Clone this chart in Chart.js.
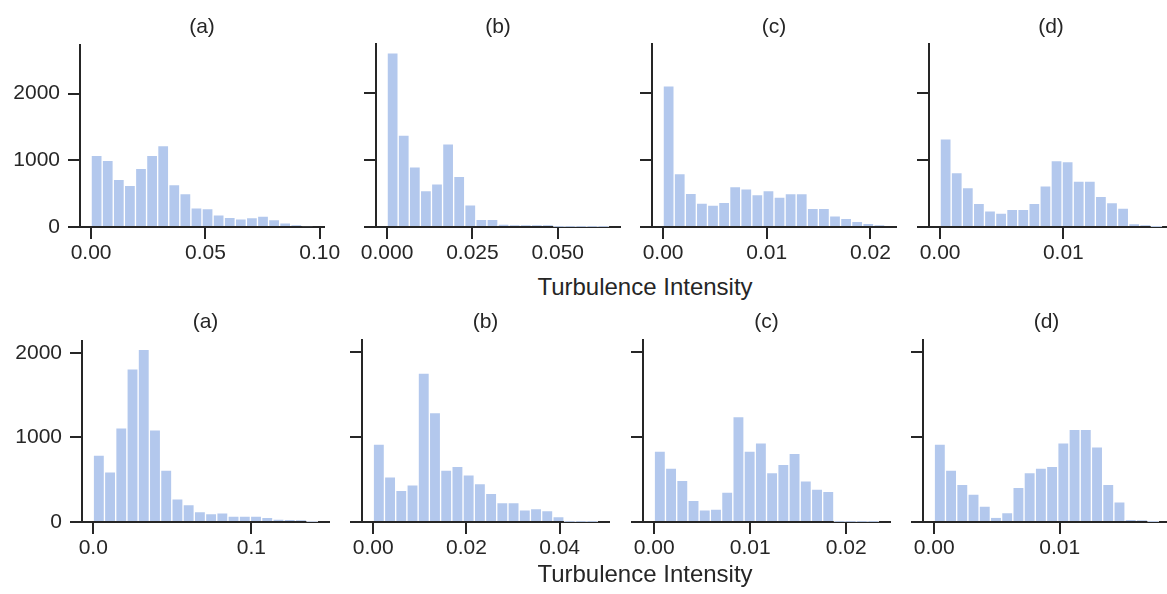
<!DOCTYPE html>
<html>
<head>
<meta charset="utf-8">
<script src="https://cdn.jsdelivr.net/npm/chart.js@4.4.1/dist/chart.umd.min.js"></script>
<style>
  html, body { margin: 0; padding: 0; background: #fff; overflow: hidden; }
  body { width: 1167px; height: 594px; position: relative; font-family: "Liberation Sans", Arial, sans-serif; color: #262626; }
  canvas { position: absolute; }
  .ttl { position: absolute; font-size: 21px; line-height: 21px; text-align: center; white-space: nowrap; }
  .xlab { position: absolute; font-size: 24px; line-height: 24px; text-align: center; width: 400px; white-space: nowrap; }
</style>
</head>
<body>
<script>
// shared text
const panelTitles = ["(a)", "(b)", "(c)", "(d)"];
const xLabel = "Turbulence Intensity";
const yTicks = [0, 1000, 2000];

// first figure: upper edge of each histogram range, 20 bins from 0
const topUpper = [0.097, 0.065, 0.0214, 0.018];
const topA = [1076, 1000, 717, 626, 879, 1076, 1222, 636, 500, 288, 278, 182, 146, 121, 141, 162, 111, 61, 30, 15];
const topB = [2606, 1374, 899, 545, 646, 1242, 758, 333, 116, 116, 45, 30, 30, 25, 25, 1, 1, 1, 1, 1];
const topC = [2111, 798, 505, 359, 328, 369, 606, 571, 485, 545, 449, 500, 500, 278, 278, 167, 131, 86, 56, 30];
const topD = [1318, 813, 591, 354, 242, 207, 263, 263, 354, 616, 995, 980, 687, 687, 460, 364, 283, 50, 30, 3];
const topXTicks = [[0, 0.05, 0.10], [0, 0.025, 0.05], [0, 0.01, 0.02], [0, 0.01]];
const topXTickLabels = [["0.00", "0.05", "0.10"], ["0.000", "0.025", "0.050"], ["0.00", "0.01", "0.02"], ["0.00", "0.01"]];

// second figure
const botUpper = [0.142, 0.0482, 0.0234, 0.0179];
const botA = [791, 593, 1115, 1810, 2043, 1091, 613, 273, 206, 123, 99, 107, 71, 71, 71, 55, 36, 28, 24, 5];
const botB = [917, 532, 373, 437, 1754, 1290, 611, 655, 556, 452, 337, 230, 230, 143, 159, 135, 63, 1, 1, 1];
const botC = [837, 635, 492, 254, 143, 151, 353, 1242, 837, 933, 583, 679, 810, 484, 389, 361, 1, 1, 1, 1];
const botD = [917, 611, 444, 329, 187, 56, 111, 409, 583, 635, 655, 933, 1091, 1091, 885, 444, 238, 28, 20, 3];
const botXTicks = [[0, 0.1], [0, 0.02, 0.04], [0, 0.01, 0.02], [0, 0.01]];
const botXTickLabels = [["0.0", "0.1"], ["0.00", "0.02", "0.04"], ["0.00", "0.01", "0.02"], ["0.00", "0.01"]];

const rows = [
  { counts: [topA, topB, topC, topD], upper: topUpper, ticks: topXTicks, labels: topXTickLabels },
  { counts: [botA, botB, botC, botD], upper: botUpper, ticks: botXTicks, labels: botXTickLabels }
];

// where each row's axes sit on the page (pixels)
const layout = [
  { top: 44, zero: 227, lefts: [80, 376, 652, 929], width: 244, titleTop: 15, labelTop: 275 },
  { top: 340, zero: 522, lefts: [82, 362, 643, 923], width: 247, titleTop: 310, labelTop: 562 }
];

const Y_AXIS_W = 78, X_AXIS_H = 45, PAD_TOP = 20, PAD_RIGHT = 25;
const INK = "#262626";
const BAR = "rgb(179, 200, 237)";
const EDGE = "rgba(255, 255, 255, 0.8)";

Chart.defaults.font.family = '"Liberation Sans", Arial, sans-serif';
Chart.defaults.font.size = 21;
Chart.defaults.color = INK;

function axisStyle() {
  return {
    grid: { drawOnChartArea: false, drawTicks: true, tickLength: 12, lineWidth: 2, color: INK, offset: false },
    border: { display: true, color: INK, width: 2 }
  };
}

function addText(cls, text, left, top, width) {
  const d = document.createElement("div");
  d.className = cls;
  d.textContent = text;
  d.style.left = left + "px";
  d.style.top = top + "px";
  if (width) d.style.width = width + "px";
  document.body.appendChild(d);
}

rows.forEach((row, r) => {
  const box = layout[r];
  const yMax = Math.max(...row.counts.flat()) * 1.05; // shared y per row

  row.counts.forEach((counts, p) => {
    const hi = row.upper[p];
    const bw = hi / counts.length;
    const points = counts.map((c, i) => ({ x: (i + 0.5) * bw, y: c }));

    const w = Y_AXIS_W + box.width + PAD_RIGHT;
    const h = PAD_TOP + (box.zero - box.top) + X_AXIS_H;
    const canvas = document.createElement("canvas");
    canvas.width = w;
    canvas.height = h;
    canvas.style.width = w + "px";
    canvas.style.height = h + "px";
    canvas.style.left = (box.lefts[p] - Y_AXIS_W) + "px";
    canvas.style.top = (box.top - PAD_TOP) + "px";
    document.body.appendChild(canvas);

    new Chart(canvas, {
      type: "bar",
      data: {
        datasets: [{
          data: points,
          backgroundColor: BAR,
          borderColor: EDGE,
          borderWidth: 1,
          barPercentage: 1,
          categoryPercentage: 1
        }]
      },
      options: {
        responsive: false,
        animation: false,
        devicePixelRatio: 1,
        layout: { padding: { top: PAD_TOP, right: PAD_RIGHT, left: 0, bottom: 0 } },
        plugins: { legend: { display: false }, tooltip: { enabled: false } },
        scales: {
          x: {
            type: "linear",
            offset: false,
            z: 1,
            min: -0.05 * hi,
            max: 1.05 * hi,
            afterBuildTicks: s => { s.ticks = row.ticks[p].map(v => ({ value: v })); },
            afterFit: s => { s.height = X_AXIS_H; },
            ticks: { padding: 2, maxRotation: 0, autoSkip: false, callback: (v, i) => row.labels[p][i] },
            ...axisStyle()
          },
          y: {
            min: 0,
            max: yMax,
            z: 1,
            afterBuildTicks: s => { s.ticks = yTicks.map(v => ({ value: v })); },
            afterFit: s => { s.width = Y_AXIS_W; },
            ticks: { display: p === 0, padding: 8, callback: v => String(v) },
            ...axisStyle()
          }
        }
      }
    });

    addText("ttl", panelTitles[p], box.lefts[p], box.titleTop, box.width);
  });

  addText("xlab", xLabel, 445, box.labelTop);
});
</script>
</body>
</html>
